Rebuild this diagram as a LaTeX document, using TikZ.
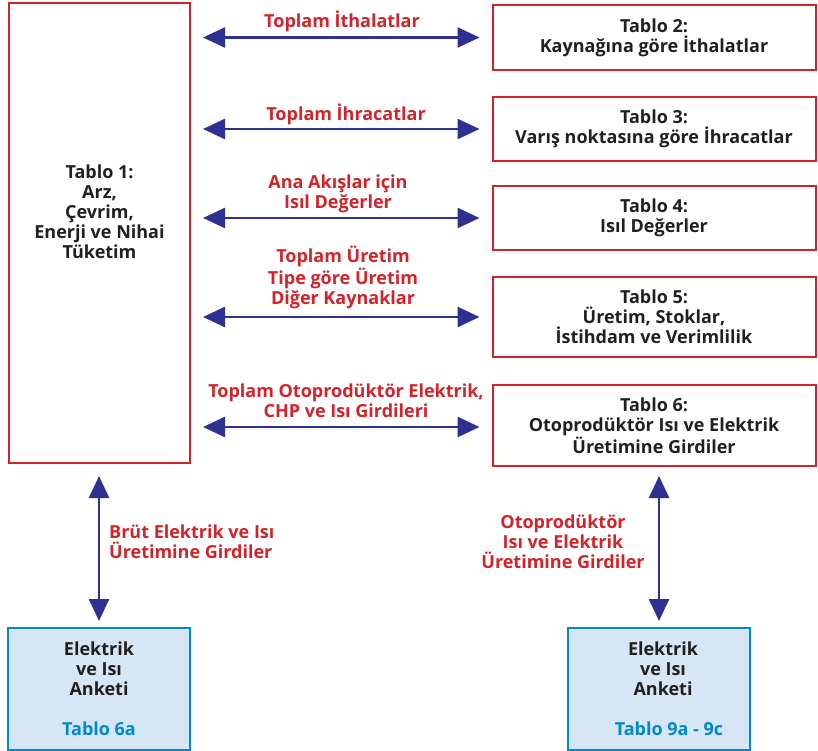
\documentclass[tikz,border=0pt]{standalone}
\usepackage{fontspec}
\setmainfont{Open Sans}
\usetikzlibrary{arrows.meta}
\definecolor{boxred}{RGB}{210,35,42}
\definecolor{arrnavy}{RGB}{46,49,146}
\definecolor{anketblue}{RGB}{0,138,206}
\definecolor{anketfill}{RGB}{214,230,245}
\definecolor{inktext}{RGB}{35,31,32}
\newcommand{\diagfont}{\bfseries\fontsize{18}{20}\selectfont}
\tikzset{
  redbox/.style={draw=boxred, line width=2pt, fill=white, align=center,
    text=inktext, font=\diagfont, inner sep=0pt},
  bluebox/.style={draw=anketblue, line width=2pt, fill=anketfill, align=center,
    text=inktext, font=\diagfont, inner sep=0pt,
    minimum width=182pt, minimum height=122pt},
  boxtext/.style={align=center, text=inktext, font=\diagfont, inner sep=0pt},
  flowlabel/.style={text=boxred, align=center, font=\diagfont, inner sep=0pt},
  dblarrow/.style={arrnavy, line width=2.5pt,
    {Triangle[length=22pt,width=20pt]}-{Triangle[length=22pt,width=20pt]}}
}
\begin{document}
\begin{tikzpicture}[x=1pt,y=-1pt]
\useasboundingbox (0,0) rectangle (818,751);

% main table (its text sits above the middle of the box)
\node[redbox, minimum width=181pt, minimum height=460pt] (t1) at (99.5,233) {};
\node[boxtext] (t1text) at (99.5,212)
  {Tablo 1:\\Arz,\\Çevrim,\\Enerji ve Nihai\\Tüketim};

% tables linked to it
\node[redbox, minimum width=323pt, minimum height=65pt] (t2) at (654,37.5)
  {Tablo 2:\\Kaynağına göre İthalatlar};
\node[redbox, minimum width=323pt, minimum height=64pt] (t3) at (654,129)
  {Tablo 3:\\Varış noktasına göre İhracatlar};
\node[redbox, minimum width=323pt, minimum height=64pt] (t4) at (654,218)
  {Tablo 4:\\Isıl Değerler};
\node[redbox, minimum width=323pt, minimum height=80pt] (t5) at (654,317)
  {Tablo 5:\\Üretim, Stoklar,\\İstihdam ve Verimlilik};
\node[redbox, minimum width=323pt, minimum height=81pt] (t6) at (654,425.5)
  {Tablo 6:\\Otoprodüktör Isı ve Elektrik\\Üretimine Girdiler};

% survey boxes
\node[bluebox] (a1) at (99,689)
  {Elektrik\\ve Isı\\Anketi\\[20pt]\textcolor{anketblue}{Tablo 6a}};
\node[bluebox] (a2) at (659,689)
  {\hspace*{8pt}Elektrik\\\hspace*{8pt}ve Isı\\\hspace*{8pt}Anketi\\[20pt]\hspace*{20pt}\textcolor{anketblue}{Tablo 9a - 9c}};

% horizontal links
\draw[dblarrow, shorten <=12pt, shorten >=12pt] (t2.west -| t1.east) -- (t2.west);
\draw[dblarrow, shorten <=12pt, shorten >=12pt] (t3.west -| t1.east) -- (t3.west);
\draw[dblarrow, shorten <=12pt, shorten >=12pt] (t4.west -| t1.east) -- (t4.west);
\draw[dblarrow, shorten <=12pt, shorten >=12pt] (t5.west -| t1.east) -- (t5.west);
\draw[dblarrow, shorten <=12pt, shorten >=12pt] ([yshift=-1.5pt]t6.west -| t1.east) -- ([yshift=-1.5pt]t6.west);

% vertical links
\draw[dblarrow, shorten <=12pt, shorten >=6pt] (t1.south -| a1.north) -- (a1.north);
\draw[dblarrow, shorten <=9pt, shorten >=6pt] (t6.south -| a2.north) -- (a2.north);

% link labels
\node[flowlabel] (l2) at (342,21) {Toplam İthalatlar};
\node[flowlabel] (l3) at (346,114) {Toplam İhracatlar};
\node[flowlabel] (l4) at (338,193.5) {Ana Akışlar için\\Isıl Değerler};
\node[flowlabel] (l5) at (343,277) {Toplam Üretim\\Tipe göre Üretim\\Diğer Kaynaklar};
\node[flowlabel] (l6) at (346,401) {Toplam Otoprodüktör Elektrik,\\CHP ve Isı Girdileri};
\node[flowlabel, align=left, anchor=west] (l7) at (109,542) {Brüt Elektrik ve Isı\\Üretimine Girdiler};
\node[flowlabel] (l8) at (563,542) {Otoprodüktör\\Isı ve Elektrik\\Üretimine Girdiler};
\end{tikzpicture}
\end{document}
